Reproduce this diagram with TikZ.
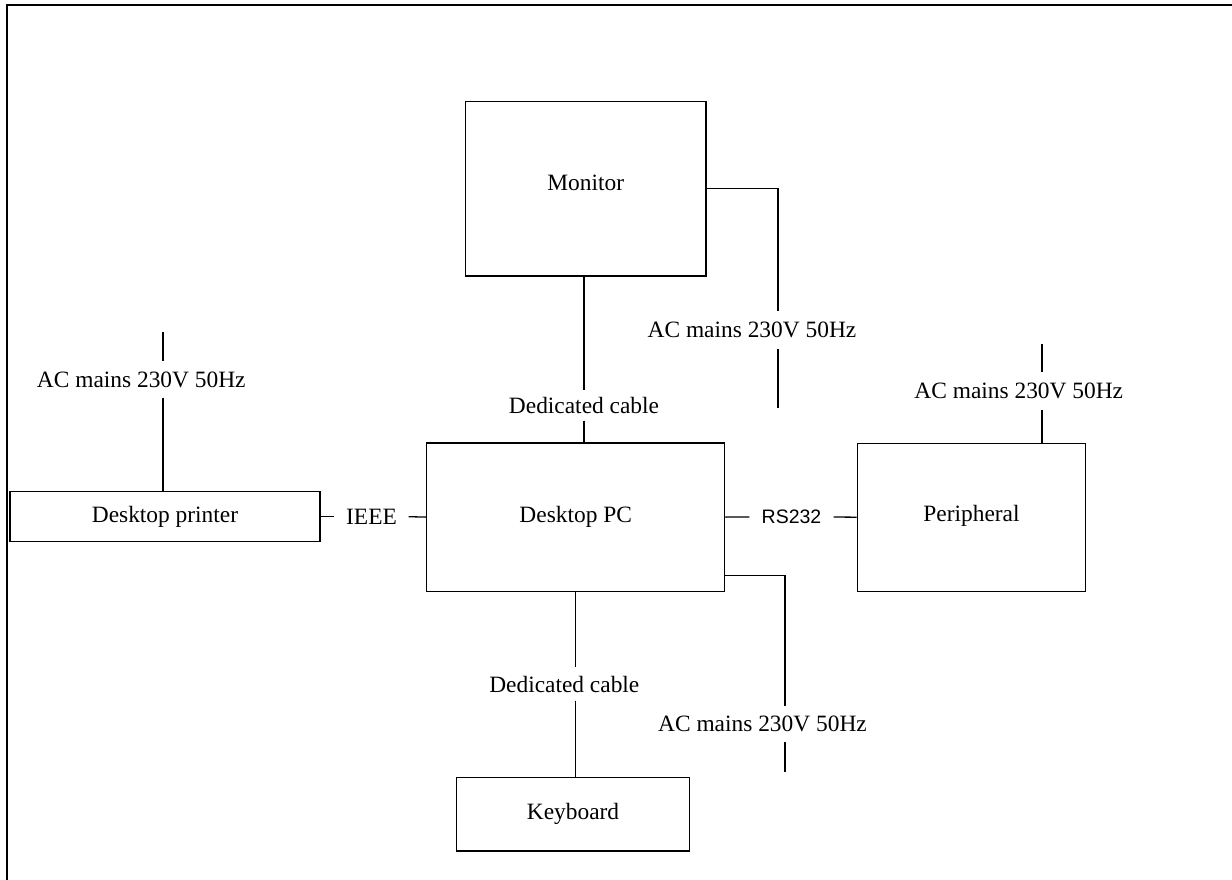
\documentclass[tikz,border=0pt]{standalone}
\usepackage{fontspec}
\setmainfont{Liberation Serif}
\newfontfamily\arialfont{Liberation Sans}
\begin{document}
\begin{tikzpicture}[x=1pt,y=-1pt,line width=1.3pt,
  box/.style={draw,inner sep=0pt,font=\fontsize{23.4}{28}\selectfont},
  lbl/.style={inner sep=0pt,font=\fontsize{23.4}{28}\selectfont},
  frame/.style={line width=2.5pt}]
\useasboundingbox (0,0) rectangle (1232,880);
\draw[frame] (7,880) -- (7,5) -- (1232,5);

\node[box,minimum width=240.5pt,minimum height=174.5pt] (mon) at (585.75,188.75) {\raisebox{12pt}{Monitor}};
\node[box,minimum width=298pt,minimum height=148.3pt] (pc) at (575.7,517.1) {Desktop PC};
\node[box,minimum width=228.4pt,minimum height=148pt] (per) at (971.5,517.2) {\raisebox{8pt}{Peripheral}};
\node[box,minimum width=232.6pt,minimum height=73.7pt] (kbd) at (573,814.2) {Keyboard};
\node[box,minimum width=310pt,minimum height=50pt] (prn) at (165,516.7) {Desktop printer};

% monitor - pc
\node[lbl,minimum height=29pt] (mcab) at (584,405.5) {Dedicated cable};
\draw (mon.south -| mcab.north) -- (mcab.north);
\draw (mcab.south) -- (pc.north -| mcab.south);

% monitor AC
\node[lbl,minimum height=36pt] (macl) at (752,330) {AC mains 230V 50Hz};
\coordinate (mac) at (778,408);
\draw (mon.east) -| (macl.north -| mac);
\draw (macl.south -| mac) -- (mac);

% pc AC
\node[lbl,minimum height=35pt] (pacl) at (762.5,724.3) {AC mains 230V 50Hz};
\coordinate (pac) at (785,771.7);
\draw ([yshift=16.6pt]pc.south east) -| (pacl.north -| pac);
\draw (pacl.south -| pac) -- (pac);

% pc - keyboard
\node[lbl,minimum height=32pt] (kcab) at (564.3,684) {Dedicated cable};
\draw (pc.south) -- (pc.south |- kcab.north);
\draw (pc.south |- kcab.south) -- (pc.south |- kbd.north);

% printer - pc
\node[lbl,minimum width=73pt] (ieee) at (371.5,516.7) {IEEE};
\draw (prn.east) -- (ieee.west);
\draw (ieee.east) -- (pc.west);

% pc - peripheral
\node[lbl,font=\arialfont\fontsize{19.5}{24}\selectfont,minimum width=83pt] (rs) at (791.5,517) {RS232};
\draw (pc.east) -- (rs.west);
\draw (rs.east) -- (per.west);

% peripheral AC
\node[lbl,minimum height=36pt] (peacl) at (1018.8,391) {AC mains 230V 50Hz};
\coordinate (peac) at (1042,344);
\draw (peac) -- (peacl.north -| peac);
\draw (peacl.south -| peac) -- (per.north -| peac);

% printer AC
\node[lbl,minimum height=35pt] (pracl) at (141.3,379.5) {AC mains 230V 50Hz};
\coordinate (prac) at (163,332);
\draw (prac) -- (pracl.north -| prac);
\draw (pracl.south -| prac) -- (prn.north -| prac);
\end{tikzpicture}
\end{document}
